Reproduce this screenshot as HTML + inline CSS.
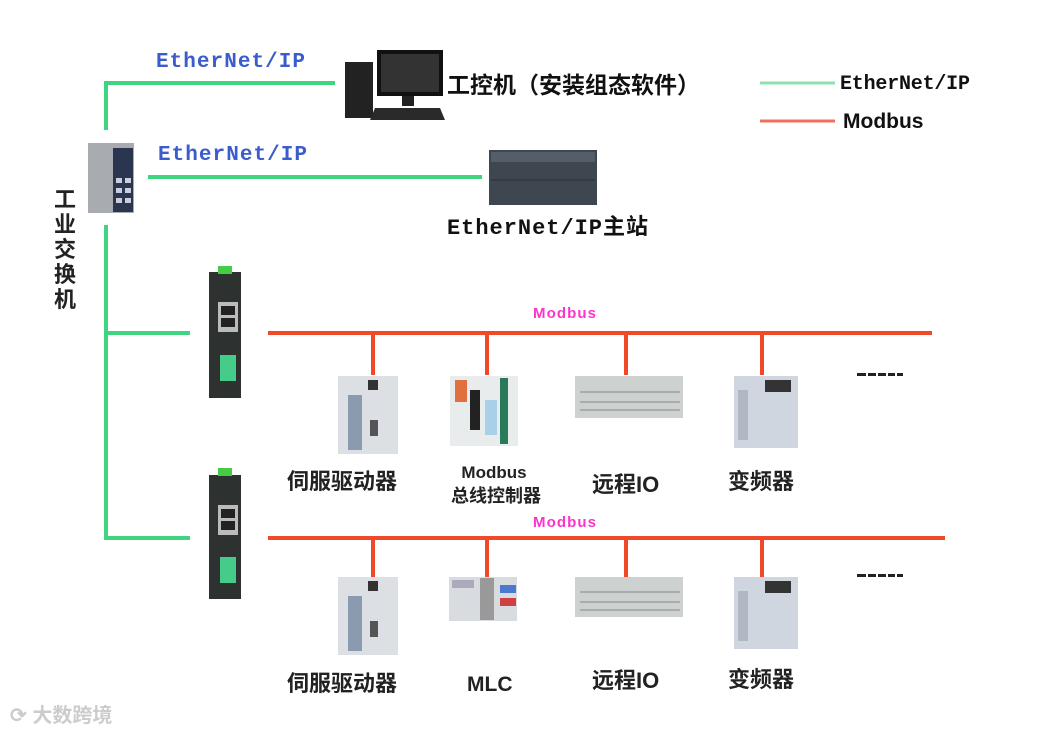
<!DOCTYPE html>
<html><head><meta charset="utf-8"><style>
body{margin:0;background:#fff;}
svg text{font-family:"Liberation Sans","Noto Sans CJK SC",sans-serif;font-weight:bold;}
.m{font-family:"Liberation Mono","Noto Sans CJK SC",monospace !important;}
</style></head><body>
<svg width="1054" height="733" viewBox="0 0 1054 733" xmlns="http://www.w3.org/2000/svg">
<rect width="1054" height="733" fill="#fff"/>
<g stroke="#3fd47f" stroke-width="4" fill="none">
<polyline points="106,130 106,83 335,83"/>
<line x1="148" y1="177" x2="482" y2="177"/>
<line x1="106" y1="225" x2="106" y2="540"/>
<line x1="106" y1="333" x2="190" y2="333"/>
<line x1="106" y1="538" x2="190" y2="538"/>
</g>
<g stroke="#f2482a" stroke-width="4" fill="none">
<line x1="268" y1="333" x2="932" y2="333"/>
<line x1="268" y1="538" x2="945" y2="538"/>
<line x1="373" y1="333" x2="373" y2="375"/>
<line x1="487" y1="333" x2="487" y2="375"/>
<line x1="626" y1="333" x2="626" y2="375"/>
<line x1="762" y1="333" x2="762" y2="375"/>
<line x1="373" y1="538" x2="373" y2="577"/>
<line x1="487" y1="538" x2="487" y2="577"/>
<line x1="626" y1="538" x2="626" y2="577"/>
<line x1="762" y1="538" x2="762" y2="577"/>
</g>
<line x1="760" y1="83" x2="835" y2="83" stroke="#8fe0b0" stroke-width="3"/>
<line x1="760" y1="121" x2="835" y2="121" stroke="#f07060" stroke-width="3"/>
<text x="840" y="89" font-size="20" class="m" fill="#111" textLength="130">EtherNet/IP</text>
<text x="843" y="128" font-size="21" fill="#111">Modbus</text>
<text x="156" y="67" font-size="21" class="m" fill="#3a5ccc" textLength="149">EtherNet/IP</text>
<text x="158" y="160" font-size="21" class="m" fill="#3a5ccc" textLength="149">EtherNet/IP</text>
<text x="447" y="93" font-size="23" fill="#111">工控机（安装组态软件）</text>
<text x="447" y="234" font-size="22" class="m" fill="#111" textLength="201">EtherNet/IP主站</text>
<g font-size="22" fill="#222"><text x="54" y="207">工</text><text x="54" y="232">业</text><text x="54" y="257">交</text><text x="54" y="282">换</text><text x="54" y="307">机</text></g>
<text x="533" y="318" font-size="15" fill="#ff33cc" textLength="63">Modbus</text>
<text x="533" y="527" font-size="15" fill="#ff33cc" textLength="63">Modbus</text>
<text x="287" y="489" font-size="22" fill="#222">伺服驱动器</text>
<text x="494" y="478" font-size="17" fill="#222" text-anchor="middle">Modbus</text>
<text x="496" y="502" font-size="18" fill="#222" text-anchor="middle">总线控制器</text>
<text x="592" y="492" font-size="22" fill="#222">远程IO</text>
<text x="728" y="489" font-size="22" fill="#222">变频器</text>
<text x="287" y="691" font-size="22" fill="#222">伺服驱动器</text>
<text x="467" y="691" font-size="21" fill="#222">MLC</text>
<text x="592" y="688" font-size="22" fill="#222">远程IO</text>
<text x="728" y="687" font-size="22" fill="#222">变频器</text>
<g fill="#222"><rect x="857" y="373" width="46" height="3"/><rect x="857" y="574" width="46" height="3"/></g>
<rect x="866" y="373" width="2" height="3" fill="#fff"/><rect x="876" y="373" width="2" height="3" fill="#fff"/><rect x="886" y="373" width="2" height="3" fill="#fff"/><rect x="895" y="373" width="2" height="3" fill="#fff"/>
<rect x="866" y="574" width="2" height="3" fill="#fff"/><rect x="876" y="574" width="2" height="3" fill="#fff"/><rect x="886" y="574" width="2" height="3" fill="#fff"/><rect x="895" y="574" width="2" height="3" fill="#fff"/>
<text x="10" y="722" font-size="20" fill="#ccc">⟳ 大数跨境</text>
<rect x="345" y="62" width="28" height="56" fill="#222"/>
<rect x="377" y="50" width="66" height="46" fill="#111"/>
<rect x="381" y="54" width="58" height="38" fill="#333"/>
<rect x="402" y="96" width="12" height="10" fill="#222"/>
<polygon points="375,108 440,108 445,120 370,120" fill="#2a2a2a"/>
<rect x="88" y="143" width="46" height="70" fill="#a8acb0"/>
<rect x="113" y="148" width="20" height="64" fill="#2a3550"/>
<g fill="#ccd"><rect x="116" y="178" width="6" height="5"/><rect x="125" y="178" width="6" height="5"/><rect x="116" y="188" width="6" height="5"/><rect x="125" y="188" width="6" height="5"/><rect x="116" y="198" width="6" height="5"/><rect x="125" y="198" width="6" height="5"/></g>
<rect x="489" y="150" width="108" height="55" fill="#3e4650"/>
<rect x="491" y="152" width="104" height="10" fill="#555e68"/>
<line x1="491" y1="180" x2="595" y2="180" stroke="#2a3038"/>
<rect x="209" y="272" width="32" height="126" fill="#2d3230"/>
<rect x="218" y="266" width="14" height="8" fill="#4c4"/>
<rect x="218" y="302" width="20" height="30" fill="#bbb"/><rect x="221" y="306" width="14" height="9" fill="#222"/><rect x="221" y="318" width="14" height="9" fill="#222"/>
<rect x="220" y="355" width="16" height="26" fill="#4c8"/>
<rect x="209" y="475" width="32" height="124" fill="#2d3230"/>
<rect x="218" y="468" width="14" height="8" fill="#4c4"/>
<rect x="218" y="505" width="20" height="30" fill="#bbb"/><rect x="221" y="509" width="14" height="9" fill="#222"/><rect x="221" y="521" width="14" height="9" fill="#222"/>
<rect x="220" y="557" width="16" height="26" fill="#4c8"/>
<rect x="338" y="376" width="60" height="78" fill="#dcdfe3"/><rect x="348" y="395" width="14" height="55" fill="#8a9bb0"/><rect x="368" y="380" width="10" height="10" fill="#333"/><rect x="370" y="420" width="8" height="16" fill="#555"/>
<rect x="338" y="577" width="60" height="78" fill="#dcdfe3"/><rect x="348" y="596" width="14" height="55" fill="#8a9bb0"/><rect x="368" y="581" width="10" height="10" fill="#333"/><rect x="370" y="621" width="8" height="16" fill="#555"/>
<rect x="450" y="376" width="68" height="70" fill="#e8ecec"/><rect x="455" y="380" width="12" height="22" fill="#e07040"/><rect x="470" y="390" width="10" height="40" fill="#222"/><rect x="500" y="378" width="8" height="66" fill="#2a7a5a"/><rect x="485" y="400" width="12" height="35" fill="#a8d0e8"/>
<rect x="449" y="577" width="68" height="44" fill="#d8dce0"/><rect x="480" y="578" width="14" height="42" fill="#999"/><rect x="500" y="585" width="16" height="8" fill="#4a7ad0"/><rect x="500" y="598" width="16" height="8" fill="#d04040"/><rect x="452" y="580" width="22" height="8" fill="#aab"/>
<rect x="575" y="376" width="108" height="42" fill="#cdd1d0"/><g stroke="#888" stroke-width="1"><line x1="580" y1="392" x2="680" y2="392"/><line x1="580" y1="402" x2="680" y2="402"/><line x1="580" y1="410" x2="680" y2="410"/></g>
<rect x="575" y="577" width="108" height="40" fill="#cdd1d0"/><g stroke="#888" stroke-width="1"><line x1="580" y1="592" x2="680" y2="592"/><line x1="580" y1="602" x2="680" y2="602"/><line x1="580" y1="610" x2="680" y2="610"/></g>
<rect x="734" y="376" width="64" height="72" fill="#d0d6e0"/><rect x="765" y="380" width="26" height="12" fill="#333"/><rect x="738" y="390" width="10" height="50" fill="#b0b8c4"/>
<rect x="734" y="577" width="64" height="72" fill="#d0d6e0"/><rect x="765" y="581" width="26" height="12" fill="#333"/><rect x="738" y="591" width="10" height="50" fill="#b0b8c4"/>
</svg>
</body></html>
